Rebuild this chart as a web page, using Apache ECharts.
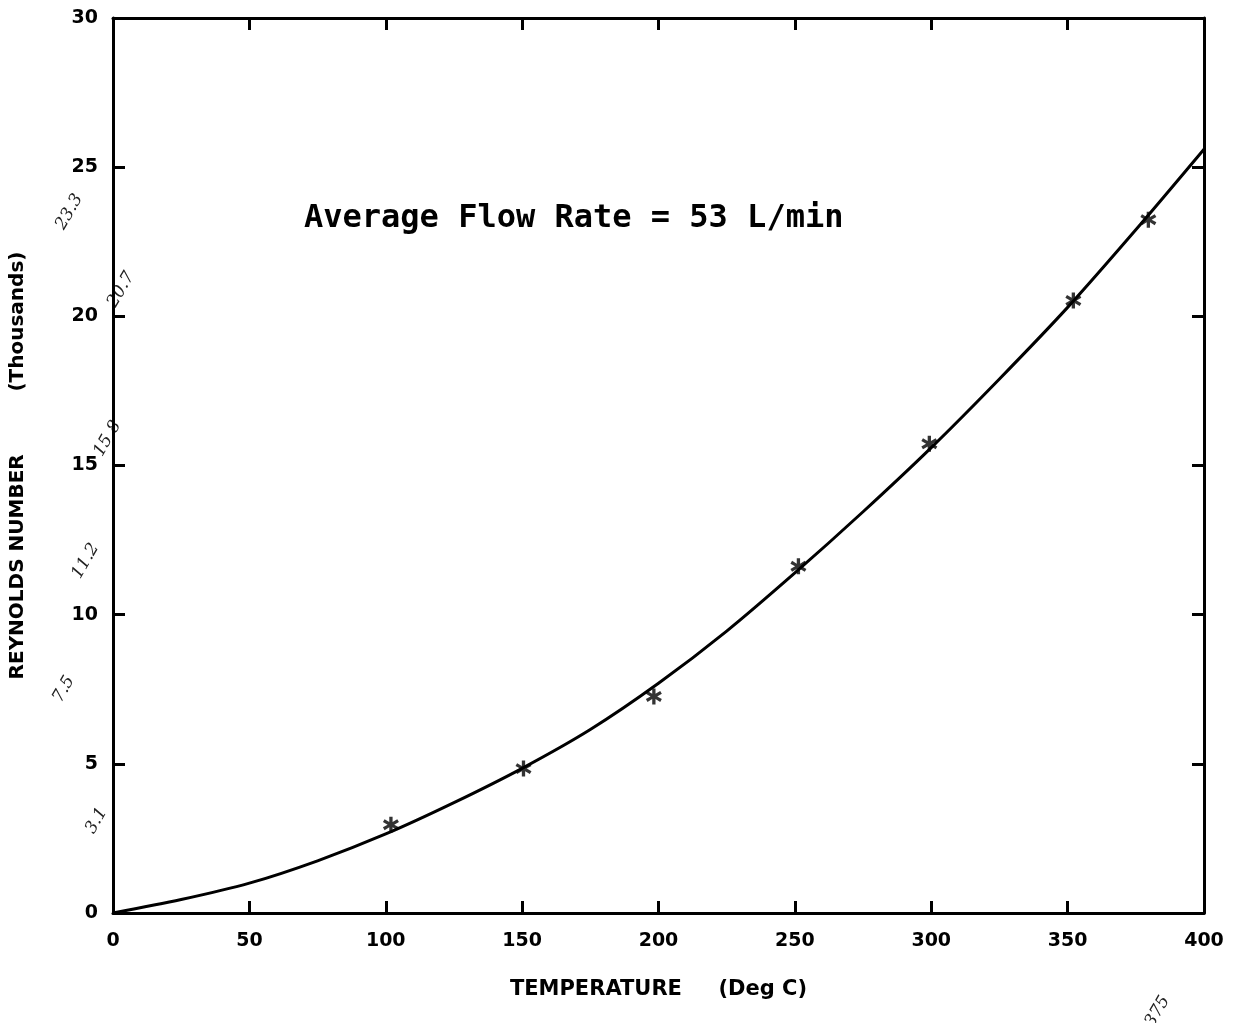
<!DOCTYPE html>
<html>
<head>
<meta charset="utf-8">
<script src="https://cdn.jsdelivr.net/npm/echarts@6/dist/echarts.min.js"></script>
<style>html,body{margin:0;padding:0;background:#fff;}#c{width:1239px;height:1023px;}</style>
</head>
<body>
<div id="c"></div>
<script>
// Measured data points (temperature °C, Reynolds number in thousands)
var pointTemp = [101.9, 150.5, 198.3, 251.3, 299.3, 352.1, 379.6];
var pointRe   = [2.96, 4.84, 7.26, 11.62, 15.73, 20.53, 23.24];
// Fitted curve
var curveTemp = [0, 25, 50, 75, 100, 125, 150, 175, 200, 225, 250, 275, 300, 325, 350, 375, 400];
var curveRe   = [0, 0.45, 1.0, 1.75, 2.65, 3.70, 4.85, 6.15, 7.70, 9.45, 11.40, 13.45, 15.60, 17.90, 20.30, 22.90, 25.60];
// Axis settings
var xMin = 0, xMax = 400, xStep = 50;
var yMin = 0, yMax = 30, yStep = 5;
// Handwritten pencil notes
var noteX = [-6, -18, -10, -2, 3, -16, 383];
var noteY = [3.1, 7.5, 11.8, 15.9, 20.9, 23.5, -3.3];
var noteText = ['3.1', '7.5', '11.2', '15.8', '20.7', '23.3', '375'];

var chart = echarts.init(document.getElementById('c'), null, {renderer: 'canvas'});
var star = 'path://M-1.2,-6L1.2,-6L1.2,-2L4.6,-4.1L5.8,-2L2.4,0L5.8,2L4.6,4.1L1.2,2L1.2,6L-1.2,6L-1.2,2L-4.6,4.1L-5.8,2L-2.4,0L-5.8,-2L-4.6,-4.1L-1.2,-2Z';
var tickFont = {fontFamily: 'DejaVu Sans', fontWeight: 'bold', fontSize: 19, color: '#000'};
var baseAxis = {
  axisLine: {show: true, onZero: false, lineStyle: {color: '#000', width: 3}},
  axisTick: {show: true, inside: true, length: 12, lineStyle: {color: '#000', width: 3}},
  splitLine: {show: false}
};
function pairs(a, b) { return a.map(function (v, i) { return [v, b[i]]; }); }

var option = {
  backgroundColor: '#fff',
  animation: false,
  title: {
    text: 'Average Flow Rate = 53 L/min',
    left: 299, top: 198,
    textStyle: {fontFamily: 'DejaVu Sans Mono', fontWeight: 'bold', fontSize: 32, color: '#000'}
  },
  grid: {left: 113, top: 18, right: 35, bottom: 110, containLabel: false, outerBoundsMode: 'none'},
  xAxis: [
    Object.assign({}, baseAxis, {
      type: 'value', position: 'bottom', min: xMin, max: xMax, interval: xStep,
      name: 'TEMPERATURE     (Deg C)', nameLocation: 'middle', nameGap: 66,
      nameTextStyle: {fontFamily: 'DejaVu Sans', fontWeight: 'bold', fontSize: 21, color: '#000'},
      axisLabel: Object.assign({margin: 19, showMinLabel: true, showMaxLabel: true}, tickFont)
    }),
    Object.assign({}, baseAxis, {
      type: 'value', position: 'top', min: xMin, max: xMax, interval: xStep,
      axisLabel: {show: false}
    })
  ],
  yAxis: [
    Object.assign({}, baseAxis, {
      type: 'value', position: 'left', min: yMin, max: yMax, interval: yStep,
      name: 'REYNOLDS NUMBER         (Thousands)', nameLocation: 'middle', nameGap: 85, nameRotate: 90,
      nameTextStyle: {fontFamily: 'DejaVu Sans', fontWeight: 'bold', fontSize: 20, color: '#000'},
      axisLabel: Object.assign({margin: 15}, tickFont)
    }),
    Object.assign({}, baseAxis, {
      type: 'value', position: 'right', min: yMin, max: yMax, interval: yStep,
      axisLabel: {show: false}
    })
  ],
  series: [
    {
      type: 'line', data: pairs(curveTemp, curveRe), smooth: 0.3, symbol: 'none',
      lineStyle: {color: '#000', width: 3}, z: 3
    },
    {
      type: 'scatter', data: pairs(pointTemp, pointRe), symbol: star, symbolSize: 16,
      itemStyle: {color: '#000'}, z: 4
    }
  ]
};
chart.setOption(option);

// pencil notes, placed through the axes' own scales
var gfx = noteText.map(function (t, i) {
  var p = chart.convertToPixel({xAxisIndex: 0, yAxisIndex: 0}, [noteX[i], noteY[i]]);
  return {
    type: 'text', x: p[0], y: p[1], rotation: Math.PI / 3,
    style: {text: t, fontFamily: 'DejaVu Serif', fontStyle: 'italic', fontSize: 17,
            fill: '#222', align: 'center', verticalAlign: 'middle'}
  };
});
chart.setOption({graphic: gfx});
</script>
</body>
</html>
